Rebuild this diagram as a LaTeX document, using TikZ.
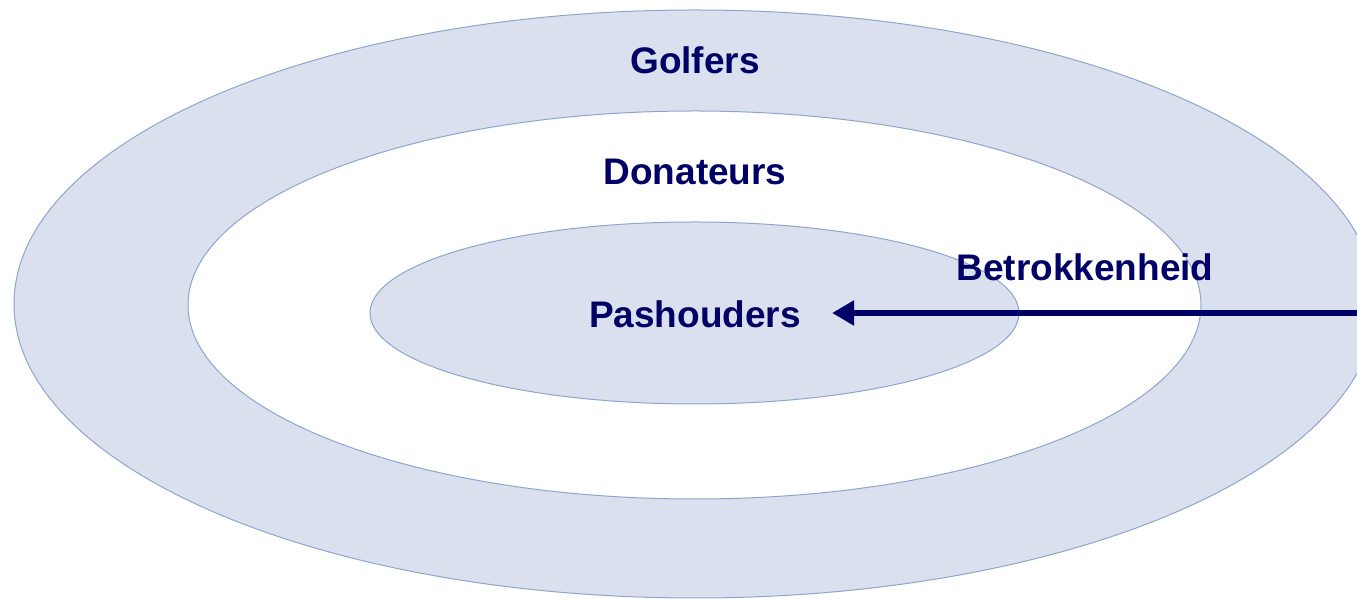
\documentclass[tikz,border=0pt]{standalone}
\usepackage{fontspec}
\setmainfont{Liberation Sans}
\usepackage{xcolor}
\usetikzlibrary{arrows.meta}
\definecolor{ringfill}{HTML}{DAE0EE}
\definecolor{ringline}{HTML}{8EA5CE}
\definecolor{navy}{RGB}{0,0,102}
\tikzset{
  ring/.style={draw=ringline,line width=1pt},
  lbl/.style={text=navy,font=\fontsize{37}{40}\selectfont\bfseries,inner sep=0pt}
}

\begin{document}
\begin{tikzpicture}[x=1pt,y=1pt]
  \useasboundingbox (0,0) rectangle (1357,599);
  \clip (0,0) rectangle (1357,599);
  \draw[ring,fill=ringfill] (695,295) ellipse (681 and 294);
  \draw[ring,fill=white] (694.5,294) ellipse (506.5 and 194);
  \draw[ring,fill=ringfill] (694.5,286) ellipse (324.5 and 91);
  \node[lbl] (golf) at (695,539) {Golfers};
  \node[lbl] (don) at (695,427) {Donateurs};
  \node[lbl] (pas) at (695,285) {Pashouders};
  \node[lbl] (betr) at (1085,332) {Betrokkenheid};
  \coordinate (src) at (1360,286);
  \draw[navy,line width=6pt,-{Triangle[length=22pt,width=24pt]}] (src) -- ([xshift=31pt]pas.east |- src);
\end{tikzpicture}
\end{document}
